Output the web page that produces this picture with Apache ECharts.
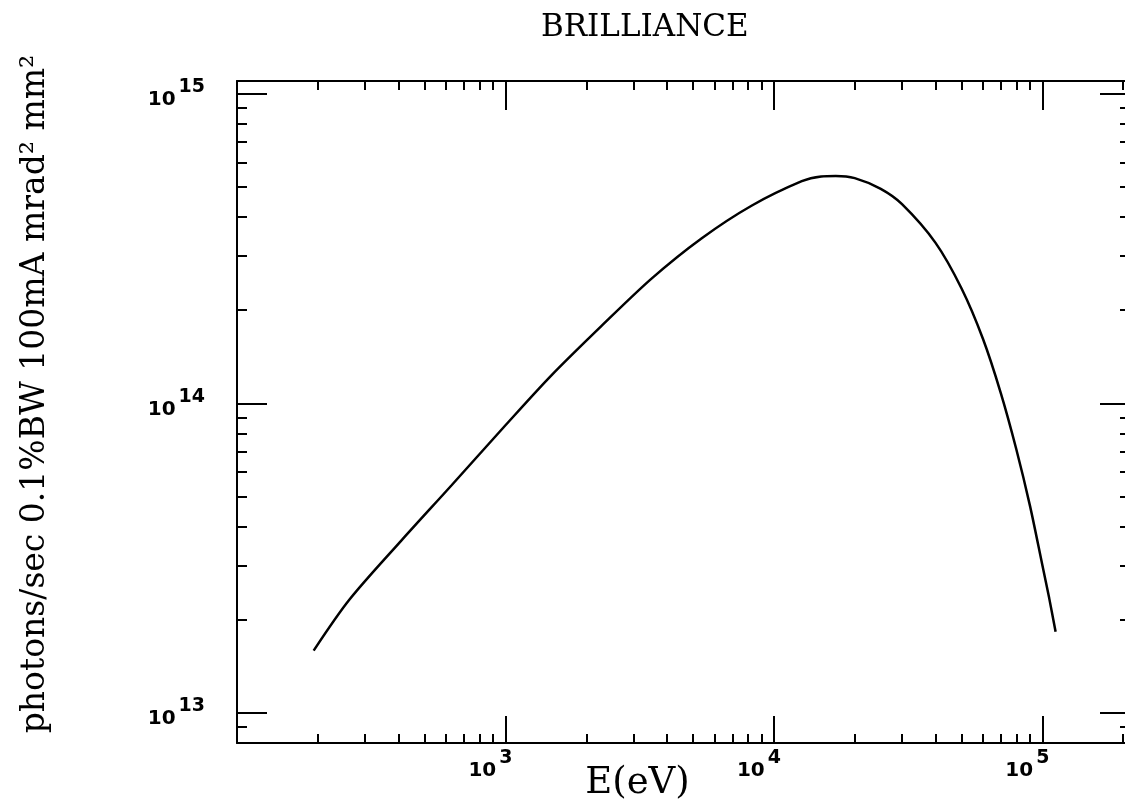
<!DOCTYPE html>
<html><head><meta charset="utf-8">
<script src="https://cdn.jsdelivr.net/npm/echarts@6/dist/echarts.min.js"></script>
<style>html,body{margin:0;padding:0;background:#fff}#c{width:1125px;height:809px}</style>
</head><body><div id="c"></div>
<script>
// ---- data ----
const energyEV = [193, 262, 410, 630, 1000, 1480, 2280, 3500, 5370, 8250, 12700, 15000, 17000, 20000, 25000, 30000, 40000, 50000, 60000, 70000, 80000, 90000, 100000, 106000, 112000];
const brilliance = [1.59e13, 2.32e13, 3.61e13, 5.44e13, 8.5e13, 1.23e14, 1.78e14, 2.53e14, 3.41e14, 4.35e14, 5.22e14, 5.41e14, 5.43e14, 5.34e14, 4.93e14, 4.4e14, 3.3e14, 2.35e14, 1.62e14, 1.08e14, 7.1e13, 4.65e13, 3.0e13, 2.35e13, 1.83e13];

const xMajorTicks = [1e3, 1e4, 1e5];
const xMinorTicks = [200,300,400,500,600,700,800,900, 2e3,3e3,4e3,5e3,6e3,7e3,8e3,9e3, 2e4,3e4,4e4,5e4,6e4,7e4,8e4,9e4, 2e5];
const xTickLabelValues = [1e3, 1e4, 1e5];
const xTickLabelExps = ['3', '4', '5'];

const yMajorTicks = [1e13, 1e14, 1e15];
const yMinorTicks = [9e12, 2e13,3e13,4e13,5e13,6e13,7e13,8e13,9e13, 2e14,3e14,4e14,5e14,6e14,7e14,8e14,9e14];
const yTickLabelValues = [1e13, 1e14, 1e15];
const yTickLabelExps = ['13', '14', '15'];

const X_MIN = 100, X_MAX = 2.12e5;
const Y_MIN = 8e12, Y_MAX = 1.1e15;

const titleText = 'BRILLIANCE';
const xTitle = 'E(eV)';
const yTitle = 'photons/sec 0.1%BW 100mA mrad\u00B2 mm\u00B2';

// ---- chart ----
function expLabel(values, exps) {
  return function (v) {
    let best = -1, bd = 1e9;
    values.forEach((t, i) => { const d = Math.abs(Math.log10(t) - Math.log10(v)); if (d < bd) { bd = d; best = i; } });
    if (best < 0 || bd > 0.01) return '';
    return '{b|10}{s|' + exps[best] + '}';
  };
}
const black = '#000';
const labelFont = 'DejaVu Sans';
function makeRich() {
  return {
    b: { fontFamily: labelFont, fontWeight: 'bold', fontSize: 20, color: black, verticalAlign: 'bottom', lineHeight: 32 },
    s: { fontFamily: labelFont, fontWeight: 'bold', fontSize: 19, color: black, verticalAlign: 'top', lineHeight: 19, padding: [0, 0, 0, 3] }
  };
}
function xAx(pos, ticks, len, withLabel, withLine) {
  return {
    type: 'log', position: pos, min: X_MIN, max: X_MAX,
    axisLine: { show: withLine, lineStyle: { color: black, width: 2 } },
    axisTick: { show: true, inside: true, length: len, customValues: ticks, lineStyle: { color: black, width: 2 } },
    axisLabel: withLabel ? { show: true, customValues: xTickLabelValues, formatter: expLabel(xTickLabelValues, xTickLabelExps), fontFamily: labelFont, fontSize: 20, color: black, rich: makeRich(), margin: 6, align: 'center', padding: [0, 30, 0, 0] } : { show: false },
    splitLine: { show: false }, minorTick: { show: false }
  };
}
function yAx(pos, ticks, len, withLabel, withLine) {
  return {
    type: 'log', position: pos, min: Y_MIN, max: Y_MAX,
    axisLine: { show: withLine, lineStyle: { color: black, width: 2 } },
    axisTick: { show: true, inside: true, length: len, customValues: ticks, lineStyle: { color: black, width: 2 } },
    axisLabel: withLabel ? { show: true, customValues: yTickLabelValues, formatter: expLabel(yTickLabelValues, yTickLabelExps), fontFamily: labelFont, fontSize: 20, color: black, rich: makeRich(), margin: 32 } : { show: false },
    splitLine: { show: false }, minorTick: { show: false }
  };
}
const xAxes = [
  xAx('bottom', xMajorTicks, 27, true, true),
  xAx('bottom', xMinorTicks, 9, false, false),
  xAx('top', xMajorTicks, 29, false, true),
  xAx('top', xMinorTicks, 9, false, false)
];
xAxes[0].name = xTitle;
xAxes[0].nameLocation = 'middle';
xAxes[0].nameGap = 22;
xAxes[0].nameMoveOverlap = false;
xAxes[0].nameTextStyle = { fontFamily: 'DejaVu Serif', fontSize: 37, color: black, padding: [0, 92, 0, 0] };
const yAxes = [
  yAx('left', yMajorTicks, 30, true, true),
  yAx('left', yMinorTicks, 10, false, false),
  yAx('right', yMajorTicks, 30, false, true),
  yAx('right', yMinorTicks, 10, false, false)
];

const chart = echarts.init(document.getElementById('c'), null, { renderer: 'canvas' });
chart.setOption({
  animation: false,
  backgroundColor: '#fff',
  title: { text: titleText, left: 536, top: 7, textStyle: { fontFamily: 'DejaVu Serif', fontWeight: 'normal', fontSize: 31, color: black } },
  grid: { left: 237, top: 81, width: 893, height: 662, containLabel: false, outerBoundsMode: 'none' },
  xAxis: xAxes,
  yAxis: yAxes,
  graphic: [{
    type: 'text', x: 35, y: 394, rotation: Math.PI / 2,
    style: { text: yTitle, font: '33px "DejaVu Serif"', fill: black, align: 'center', verticalAlign: 'middle' }
  }],
  series: [{
    type: 'line', xAxisIndex: 0, yAxisIndex: 0, showSymbol: false, smooth: 0.3,
    lineStyle: { color: black, width: 2.5 },
    data: energyEV.map((e, i) => [e, brilliance[i]])
  }]
});
</script></body></html>
